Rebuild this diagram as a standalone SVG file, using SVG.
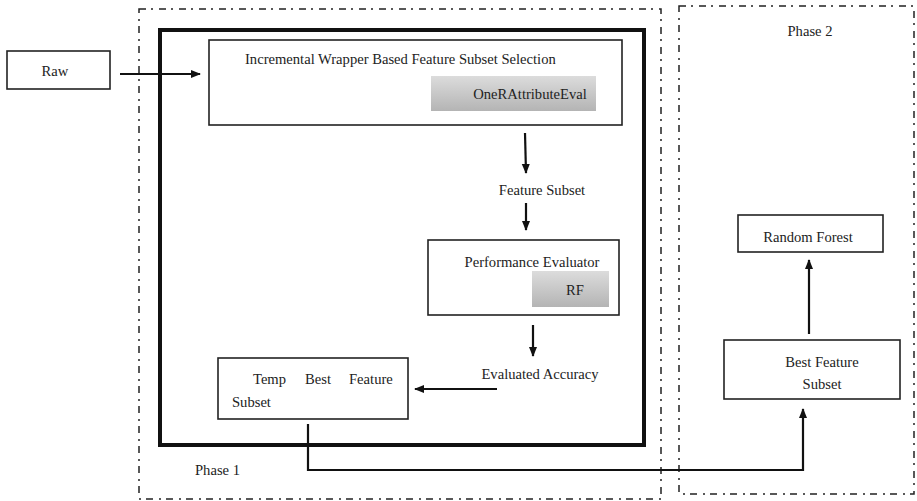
<svg xmlns="http://www.w3.org/2000/svg" width="917" height="501" viewBox="0 0 917 501">
<style>
text{font-family:"Liberation Serif","Times New Roman","DejaVu Serif",serif;font-size:14.6px;fill:#222}
.box{fill:#fff;stroke:#222;stroke-width:1.6}
.phase{fill:none;stroke:#222;stroke-width:1.5;stroke-dasharray:7 5 2 6}
.conn{fill:none;stroke:#111;stroke-width:2.2}
.gray{fill:url(#g);stroke:none}
</style>
<defs>
<linearGradient id="g" x1="0" y1="0" x2="0" y2="1">
<stop offset="0" stop-color="#dcdcdc"/>
<stop offset="1" stop-color="#b4b4b4"/>
</linearGradient>
<marker id="ah" markerWidth="10" markerHeight="10" viewBox="0 0 10 10" refX="9" refY="5" orient="auto" markerUnits="userSpaceOnUse">
<path d="M0,1 L10,5 L0,9 Z" fill="#111"/>
</marker>
</defs>
<g id="phase1">
<rect class="phase" x="139" y="9" width="522" height="490"/>
<text x="195" y="475">Phase 1</text>
</g>
<g id="phase2">
<rect class="phase" x="679" y="6" width="235" height="488"/>
<text x="810" y="36" text-anchor="middle">Phase 2</text>
</g>
<g id="loop">
<rect x="160" y="30" width="484" height="415" fill="none" stroke="#111" stroke-width="4"/>
</g>
<g id="raw">
<rect class="box" x="7" y="51" width="103" height="38"/>
<text x="55" y="76" text-anchor="middle">Raw</text>
</g>
<g id="iwfss">
<rect class="box" x="209" y="40" width="413" height="85"/>
<text x="245" y="64">Incremental Wrapper Based Feature Subset Selection</text>
<rect class="gray" x="431" y="76" width="165" height="35"/>
<text x="530" y="99" text-anchor="middle">OneRAttributeEval</text>
</g>
<g id="feature-subset">
<text x="542" y="195" text-anchor="middle">Feature Subset</text>
</g>
<g id="perf">
<rect class="box" x="428" y="240" width="191" height="75"/>
<text x="532" y="267" text-anchor="middle">Performance Evaluator</text>
<rect class="gray" x="532" y="271" width="77" height="36"/>
<text x="575" y="295" text-anchor="middle">RF</text>
</g>
<g id="evaluated-accuracy">
<text x="540" y="379" text-anchor="middle">Evaluated Accuracy</text>
</g>
<g id="temp">
<rect class="box" x="218" y="358" width="190" height="61"/>
<text x="253" y="384">Temp</text>
<text x="305" y="384">Best</text>
<text x="349" y="384">Feature</text>
<text x="232" y="407">Subset</text>
</g>
<g id="best">
<rect class="box" x="724" y="340" width="176" height="59"/>
<text x="822" y="367" text-anchor="middle">Best Feature</text>
<text x="822" y="389" text-anchor="middle">Subset</text>
</g>
<g id="rf-final">
<rect class="box" x="738" y="215" width="145" height="37"/>
<text x="808" y="242" text-anchor="middle">Random Forest</text>
</g>
<g id="connectors">
<line class="conn" x1="120" y1="74" x2="200" y2="74" marker-end="url(#ah)"/>
<line class="conn" x1="525" y1="133" x2="526" y2="173" marker-end="url(#ah)"/>
<line class="conn" x1="526" y1="203" x2="526" y2="230" marker-end="url(#ah)"/>
<line class="conn" x1="533" y1="325" x2="533" y2="356" marker-end="url(#ah)"/>
<line class="conn" x1="497" y1="389" x2="415" y2="389" marker-end="url(#ah)"/>
<polyline class="conn" points="308,424 308,470 803,470 803,409" marker-end="url(#ah)"/>
<line class="conn" x1="809" y1="334" x2="809" y2="260" marker-end="url(#ah)"/>
</g>
</svg>
